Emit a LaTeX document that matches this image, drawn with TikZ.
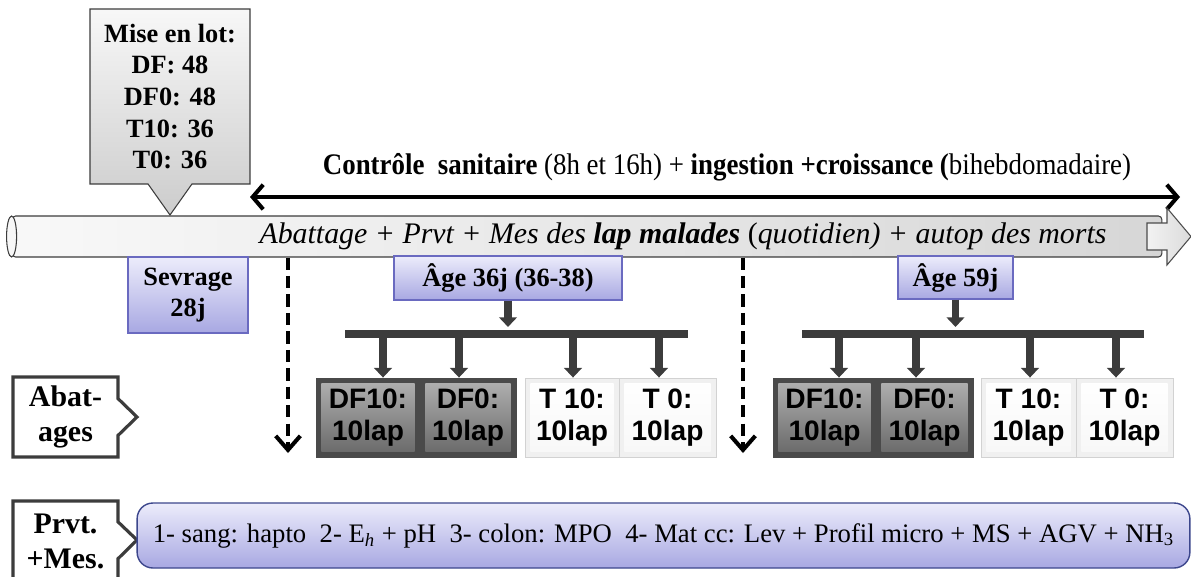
\documentclass[tikz,border=0pt]{standalone}
\usepackage{fontspec}
\setmainfont{Liberation Serif}
\setsansfont{Liberation Sans}
\newfontfamily\narrowserif[FakeStretch=0.9]{Liberation Serif}
\usepackage{tikz}
\usetikzlibrary{positioning,arrows.meta,calc,shapes.callouts}
\definecolor{ink}{HTML}{141414}
\definecolor{lavLt}{HTML}{ECECFB}
\definecolor{lavDk}{HTML}{A8A8E2}
\definecolor{lavLine}{HTML}{6A6AC0}
\definecolor{navyLine}{HTML}{3C468C}
\definecolor{stemGray}{HTML}{3C3C3C}
\definecolor{boxDk}{HTML}{4A4A4A}
\definecolor{boxLt}{HTML}{D2D2D2}
\newcommand{\boldword}[1]{\textbf{#1}}

\tikzset{
  lavbox/.style={draw=lavLine, line width=0.7pt, top color=lavLt, bottom color=lavDk,
    inner sep=0pt, align=center, font=\fontsize{15}{18}\selectfont\bfseries},
  groupbox/.style={minimum height=1.58cm, inner sep=0pt, align=center,
    font=\sffamily\fontsize{16}{18}\selectfont\bfseries},
  darkbox/.style={groupbox, draw=boxDk, fill=boxDk, line width=0.5pt,
    path picture={\shade[top color=gray!60, bottom color=gray!80!black]
      ([shift={(3pt,3pt)}]path picture bounding box.south west) rectangle
      ([shift={(-3pt,-3pt)}]path picture bounding box.north east);}},
  lightbox/.style={groupbox, draw=boxLt, fill=gray!12, line width=0.5pt,
    path picture={\shade[top color=white, bottom color=gray!6]
      ([shift={(3pt,3pt)}]path picture bounding box.south west) rectangle
      ([shift={(-3pt,-3pt)}]path picture bounding box.north east);}},
  sidecall/.style={rectangle callout, draw=stemGray, line width=1.8pt, fill=white,
    callout pointer width=21pt, inner sep=0pt, align=center,
    font=\fontsize{17}{20}\selectfont\bfseries},
  stem/.style={draw=stemGray, line width=4.4pt, -{Triangle[width=10pt,length=5.5pt]}},
  bar/.style={draw=stemGray, line width=5pt},
  dashdrop/.style={draw=black, line width=2.3pt, dash pattern=on 7pt off 3.5pt,
    -{Straight Barb[length=8pt,width=14pt]}},
}

\begin{document}
\begin{tikzpicture}[x=0.02cm, y=-0.02cm]
  \useasboundingbox (0,0) rectangle (1191,576);

  % batch callout
  \node[rectangle callout, callout absolute pointer={(170,215)}, callout pointer width=25pt,
        draw=stemGray, line width=0.6pt, top color=gray!6, bottom color=gray!40,
        minimum width=3.2cm, minimum height=3.5cm, inner sep=0pt, align=center,
        font=\fontsize{15}{18}\selectfont\bfseries] (lot) at (170,96.5)
    {Mise en lot:\\DF: 48\\DF0: 48\\T10: 36\\T0: 36};

  % follow-up over the whole trial
  \node[font=\narrowserif\fontsize{17}{20}\selectfont] (suivi) at (727,167)
    {\boldword{Contrôle\ \ sanitaire} (8h et 16h) + \boldword{ingestion +croissance (}bihebdomadaire)};
  \coordinate (suiviL) at (250,197);
  \coordinate (suiviR) at (1180,197);
  \draw[line width=2.3pt, {Straight Barb[length=6pt,width=14pt]}-{Straight Barb[length=6pt,width=14pt]}]
    (suiviL) -- (suiviR);

  % time line (tube + head)
  \node[draw=stemGray, line width=0.6pt, left color=gray!5, right color=gray!32,
        minimum width=23cm, minimum height=0.82cm, inner sep=0pt, rounded corners=2pt]
    (tube) at (587,236.5) {};
  \draw[draw=stemGray, line width=0.6pt, fill=gray!6] (tube.west) ellipse [x radius=0.1cm, y radius=0.41cm];
  \draw[draw=gray!60!black, line width=0.6pt, left color=gray!10, right color=gray!28]
    (1147,223) -- (1167,223) -- (1167,208) -- (1191,236.5) -- (1167,265) -- (1167,250) -- (1147,250) -- cycle;
  \node[font=\fontsize{17}{20}\selectfont\itshape] (tubetxt) at (683,236)
    {Abattage + Prvt + Mes des \boldword{lap malades} \textup{(}quotidien) + autop des morts};

  % stages
  \node[lavbox, minimum width=2.4cm, minimum height=1.52cm] (sevrage) at (188,295) {Sevrage\\28j};
  \node[lavbox, minimum width=4.56cm, minimum height=0.88cm] (age36) at (508,278) {Âge 36j (36-38)};
  \node[lavbox, minimum width=2.3cm, minimum height=0.86cm] (age59) at (955.5,277.5) {Âge 59j};

  % dashed drops
  \coordinate (dropA) at (288,453);
  \coordinate (dropB) at (743,453);
  \draw[dashdrop] (tube.south -| dropA) -- (dropA);
  \draw[dashdrop] (tube.south -| dropB) -- (dropB);

  % slaughter groups at 36 d
  \node[darkbox, minimum width=2.08cm] (b1) at (368,417.5) {DF10:\\10lap};
  \node[darkbox, minimum width=1.92cm] (b2) at (468,417.5) {DF0:\\10lap};
  \node[lightbox, minimum width=1.88cm] (b3) at (572,417.5) {T 10:\\10lap};
  \node[lightbox, minimum width=1.94cm] (b4) at (667.5,417.5) {T 0:\\10lap};

  \coordinate (barA1) at (345,334);
  \coordinate (barA2) at (688,334);
  \draw[bar] (barA1) -- (barA2);
  \draw[stem, shorten >=4pt] (age36.south) -- (age36.south |- barA1);
  \foreach \x/\b in {383/b1, 459/b2, 573/b3, 659/b4}
    \draw[stem] (\x,334) -- (\x,334 |- \b.north);

  % slaughter groups at 59 d
  \node[darkbox, minimum width=2.06cm] (c1) at (824.5,417.5) {DF10:\\10lap};
  \node[darkbox, minimum width=1.94cm] (c2) at (924.5,417.5) {DF0:\\10lap};
  \node[lightbox, minimum width=1.9cm] (c3) at (1028.5,417.5) {T 10:\\10lap};
  \node[lightbox, minimum width=1.94cm] (c4) at (1124.5,417.5) {T 0:\\10lap};

  \coordinate (barB1) at (802,334);
  \coordinate (barB2) at (1144,334);
  \draw[bar] (barB1) -- (barB2);
  \draw[stem, shorten >=4pt] (age59.south) -- (age59.south |- barB1);
  \foreach \x/\b in {839/c1, 916/c2, 1030/c3, 1116/c4}
    \draw[stem] (\x,334) -- (\x,334 |- \b.north);

  % row labels
  \node[sidecall, callout absolute pointer={(137,417)}, minimum width=2.1cm, minimum height=1.6cm]
    (abat) at (65.5,417) {Abat-\\ages};
  \node[sidecall, callout absolute pointer={(137,540)}, minimum width=2.1cm, minimum height=1.6cm]
    (prvt) at (65.5,541) {Prvt.\\+Mes.};

  % samples and measures
  \node[draw=navyLine, line width=0.8pt, rounded corners=9pt, top color=lavLt, bottom color=lavDk,
        minimum width=21.06cm, minimum height=1.3cm, inner sep=0pt,
        font=\fontsize{15.2}{18}\selectfont] (mesures) at (663.5,535.5)
    {1- sang: hapto\ \ 2- E\textsubscript{\itshape h} + pH\ \ 3- colon: MPO\ \ 4- Mat cc: Lev + Profil micro + MS + AGV + NH\textsubscript{3}};
\end{tikzpicture}
\end{document}
